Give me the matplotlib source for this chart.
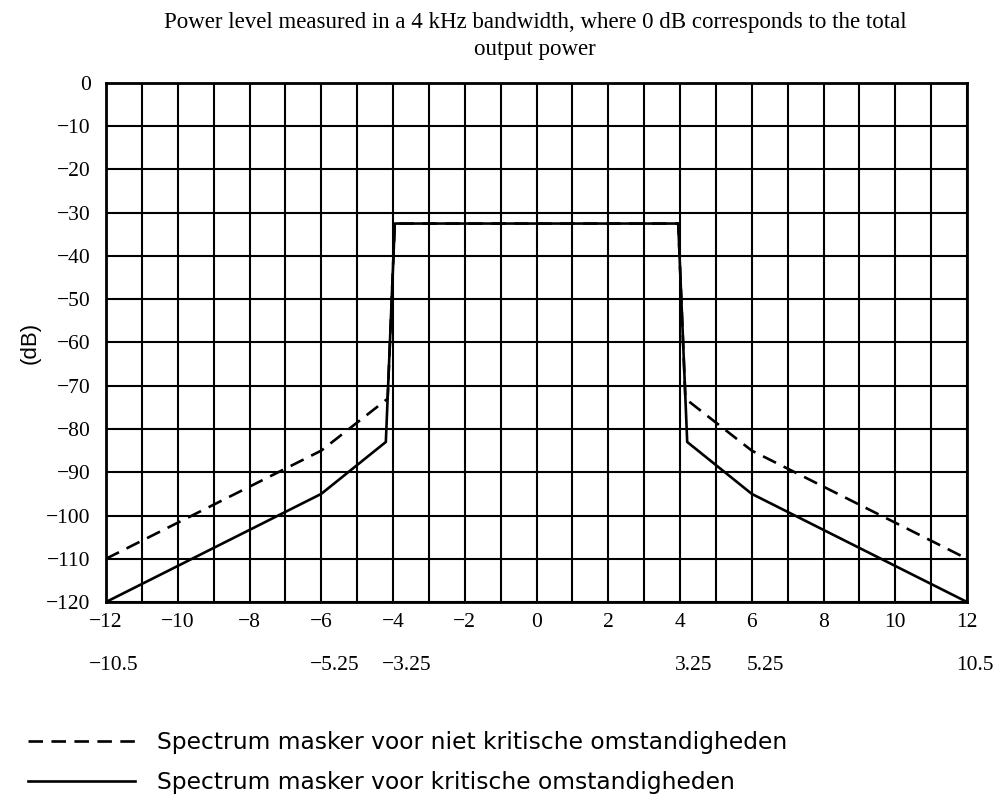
import matplotlib
matplotlib.use("Agg")
import matplotlib.pyplot as plt
import numpy as np

# ---- data ----
solid_x = [-12, -6, -4.2, -3.95, 3.95, 4.2, 6, 12]
solid_y = [-120, -95, -83, -32.5, -32.5, -83, -95, -120]
dashed_x = [-12, -6, -4.15, -3.95, 3.95, 4.15, 6, 12]
dashed_y = [-110, -85, -73, -32.5, -32.5, -73, -85, -110]

x_ticks = [-12, -10, -8, -6, -4, -2, 0, 2, 4, 6, 8, 10, 12]
y_ticks = [0, -10, -20, -30, -40, -50, -60, -70, -80, -90, -100, -110, -120]
sec_ticks = [-12, -6, -4, 4, 6, 12]
sec_labels = ["\u221210.5", "\u22125.25", "\u22123.25", "3.25", "5.25", "10.5"]

title = "Power level measured in a 4 kHz bandwidth, where 0 dB corresponds to the total\noutput power"
label_dashed = "Spectrum masker voor niet kritische omstandigheden"
label_solid = "Spectrum masker voor kritische omstandigheden"

serif = "Liberation Serif"

fig = plt.figure(figsize=(9.99, 7.94), dpi=100)
ax = fig.add_axes([0.1061, 0.2418, 0.968 - 0.1061, 0.8955 - 0.2418])

ax.set_xlim(-12, 12)
ax.set_ylim(-120, 0)
ax.set_xticks(x_ticks)
ax.set_xticks(np.arange(-12, 13, 1), minor=True)
ax.set_yticks(y_ticks)
ax.set_xticklabels([str(t).replace("-", "\u2212") for t in x_ticks], fontfamily=serif, fontsize=15.5)
ax.set_yticklabels([str(t).replace("-", "\u2212") for t in y_ticks], fontfamily=serif, fontsize=15.5)
ax.tick_params(axis="both", which="both", length=0)
ax.tick_params(axis="x", pad=8)
ax.tick_params(axis="y", pad=11)
ax.grid(True, which="both", color="black", linewidth=1.5)
ax.set_axisbelow(True)
for s in ax.spines.values():
    s.set_linewidth(2.0)
    s.set_color("black")

ax.plot(dashed_x, dashed_y, color="black", lw=1.9, linestyle=(0, (5.5, 3.2)),
        label=label_dashed, zorder=3)
ax.plot(solid_x, solid_y, color="black", lw=1.9, label=label_solid, zorder=4)

ax.set_ylabel("(dB)", fontfamily="Liberation Sans", fontsize=16, labelpad=4)

fig.suptitle(title, fontfamily=serif, fontsize=16.5, x=0.5355, y=0.985, linespacing=1.35)

# secondary x labels, left-aligned with the primary labels
fig.canvas.draw()
renderer = fig.canvas.get_renderer()
inv = fig.transFigure.inverted()
tick_lbls = {t: lbl for t, lbl in zip(x_ticks, ax.get_xticklabels())}
for t, s in zip(sec_ticks, sec_labels):
    bb = tick_lbls[t].get_window_extent(renderer)
    x0, _ = inv.transform((bb.x0, 0))
    fig.text(x0, 1 - 666 / 794, s, fontfamily=serif, fontsize=15.5, ha="left", va="center")

leg = ax.legend(loc="upper left", frameon=False,
                prop={"family": "DejaVu Sans", "size": 16.8},
                handlelength=4.6, handletextpad=0.95, labelspacing=0.75,
                borderpad=0, borderaxespad=0)
leg.set_bbox_to_anchor((0.028, 1 - 731 / 794), transform=fig.transFigure)

fig.savefig("out.png", dpi=100)
